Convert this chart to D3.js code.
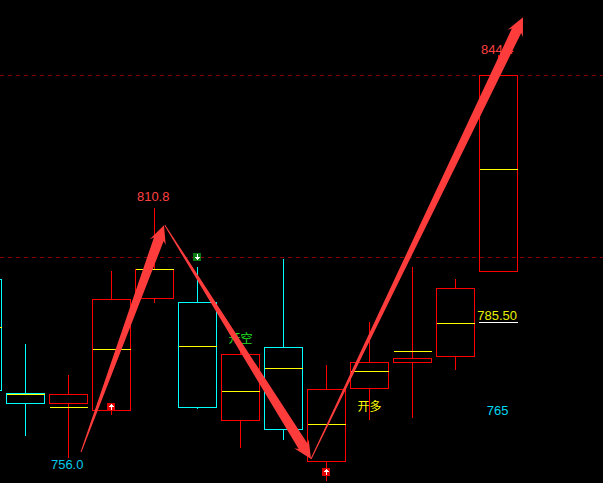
<!DOCTYPE html>
<html>
<head>
<meta charset="utf-8">
<script src="https://cdn.jsdelivr.net/npm/d3@7"></script>
<style>
  html, body { margin: 0; padding: 0; background: #000; overflow: hidden; }
  text { font-family: "Liberation Sans", "Noto Sans CJK SC", sans-serif; font-size: 13px; }
</style>
</head>
<body>
<div id="chart"></div>
<script>
// Candle values. Index 0 is the one cut off at the left edge.
var bodyTop = [795.0, 770.0, 769.8, 790.7, 797.3, 790.1, 778.6, 780.1, 770.9, 776.8, 777.8, 793.1, 839.8];
var bodyBottom = [770.6, 767.8, 767.8, 766.3, 790.9, 766.9, 764.1, 762.1, 755.1, 771.0, 776.8, 778.1, 796.9];
var midPrice = [784.6, 769.8, 767.0, 779.7, 797.3, 780.4, 770.5, 775.5, 763.2, 774.8, 779.3, 785.4, 819.2];
var highPrice = [795.0, 780.9, 774.1, 797.1, 810.8, 798.0, 780.7, 799.6, 776.3, 785.9, 798.0, 795.2, 844.4];
var lowPrice = [770.6, 760.7, 756.0, 765.3, 789.9, 766.6, 758.2, 760.0, 750.8, 764.2, 764.7, 775.2, 796.9];
var candleKind = ["down", "down", "up", "up", "up", "down", "up", "down", "up", "up", "up", "up", "up"];

var gridPrices = [840, 800];

// arrows as [index, price] pairs: tail then tip
var arrowFrom = [[2.29, 757.1], [4.24, 807.0], [7.64, 755.6]];
var arrowTo = [[4.22, 807.0], [7.64, 755.6], [12.57, 852.7]];

var signalIndex = [3, 5, 8];
var signalPrice = [767.0, 800.0, 752.8];
var signalDir = ["up", "down", "up"];

var labelText = ["810.8", "756.0", "844.4", "785.50", "765", "开空", "开多"];
var labelIndex = [3.97, 1.97, 11.97, 11.97, 11.98, 6.0, 9.0];
var labelPrice = [812.2, 753.3, 844.7, 786.15, 765.3, 781.0, 766.2];
var labelSize = [13, 13, 13, 13, 13, 12, 12];
var labelColor = ["#ff4040", "#00c8e8", "#ff4040", "#e8f000", "#00d8f0", "#22e022", "#ffff00"];

var svgWidth = 603;
var svgHeight = 483;

var colors = {up: "#ff0000", down: "#00ffff", mid: "#ffff00", arrow: "#ff3c3c", grid: "#8a0000"};

var svg = d3.select("#chart")
    .append("svg")
    .attr("width", svgWidth)
    .attr("height", svgHeight)
    .style("display", "block")
    .style("background", "#000");

var x = d3.scaleLinear().domain([0, 12]).range([-17.5, 498.5]);
var y = d3.scaleLinear().domain([800, 840]).range([257, 75]);
var halfBody = 19;

// snap to the middle of a pixel so the 1px lines stay sharp
function py(p) { return Math.floor(y(p)) + 0.5; }

// Dashed price levels
svg.selectAll("line.grid")
    .data(gridPrices)
    .enter()
    .append("line")
    .attr("class", "grid")
    .attr("x1", 0)
    .attr("x2", svgWidth)
    .attr("y1", d => py(d))
    .attr("y2", d => py(d))
    .attr("stroke", colors.grid)
    .attr("stroke-dasharray", "4,4")
    .attr("shape-rendering", "crispEdges");

var candles = d3.range(bodyTop.length);
var candleGroup = svg.append("g").attr("shape-rendering", "crispEdges");

// Wicks, upper and lower part so they stop at the body
candleGroup.selectAll("line.upper")
    .data(candles)
    .enter()
    .append("line")
    .attr("x1", i => x(i))
    .attr("x2", i => x(i))
    .attr("y1", i => py(highPrice[i]))
    .attr("y2", i => py(bodyTop[i]))
    .attr("stroke", i => colors[candleKind[i]]);

candleGroup.selectAll("line.lower")
    .data(candles)
    .enter()
    .append("line")
    .attr("x1", i => x(i))
    .attr("x2", i => x(i))
    .attr("y1", i => py(bodyBottom[i]))
    .attr("y2", i => py(lowPrice[i]))
    .attr("stroke", i => colors[candleKind[i]]);

// Bodies are hollow
candleGroup.selectAll("rect")
    .data(candles)
    .enter()
    .append("rect")
    .attr("x", i => x(i) - halfBody)
    .attr("y", i => py(bodyTop[i]))
    .attr("width", halfBody * 2)
    .attr("height", i => py(bodyBottom[i]) - py(bodyTop[i]))
    .attr("fill", "none")
    .attr("stroke", i => colors[candleKind[i]]);

// Yellow middle lines
candleGroup.selectAll("line.mid")
    .data(candles)
    .enter()
    .append("line")
    .attr("x1", i => x(i) - halfBody)
    .attr("x2", i => x(i) + halfBody)
    .attr("y1", i => py(midPrice[i]))
    .attr("y2", i => py(midPrice[i]))
    .attr("stroke", colors.mid);

// White underline below the 785.50 label
candleGroup.append("line")
    .attr("x1", x(11) + halfBody + 4)
    .attr("x2", x(12) + halfBody)
    .attr("y1", py(midPrice[11]) - 1)
    .attr("y2", py(midPrice[11]) - 1)
    .attr("stroke", "#ffffff");

// Labels
svg.selectAll("text")
    .data(labelText)
    .enter()
    .append("text")
    .attr("x", (d, i) => x(labelIndex[i]))
    .attr("y", (d, i) => y(labelPrice[i]))
    .attr("text-anchor", "middle")
    .attr("fill", (d, i) => labelColor[i])
    .style("font-size", (d, i) => labelSize[i] + "px")
    .text(d => d);

// Signal markers: small square with a white arrow
var signals = svg.selectAll("g.signal")
    .data(signalIndex)
    .enter()
    .append("g")
    .attr("class", "signal")
    .attr("shape-rendering", "crispEdges")
    .attr("transform", (d, i) => `translate(${Math.floor(x(d))}, ${Math.round(y(signalPrice[i]))})`);

signals.append("rect")
    .attr("x", -4)
    .attr("y", -4)
    .attr("width", 8)
    .attr("height", 8)
    .attr("rx", 1)
    .attr("fill", (d, i) => signalDir[i] == "up" ? "#e00000" : "#0a7a14");

signals.append("path")
    .attr("d", (d, i) => signalDir[i] == "up"
        ? "M0,-3L3,0L1,0L1,3L0,3L0,0L-2,0Z"
        : "M0,3L3,0L1,0L1,-3L0,-3L0,0L-2,0Z")
    .attr("fill", "#ffffff");

// Tapered arrows, thin at the tail and widening to the head
function arrowPath(from, to) {
    var x0 = x(from[0]), y0 = y(from[1]);
    var x1 = x(to[0]), y1 = y(to[1]);
    var len = Math.hypot(x1 - x0, y1 - y0);
    var ux = (x1 - x0) / len, uy = (y1 - y0) / len;
    var nx = -uy, ny = ux;
    var headLen = 18, neck = 5.2, barb = 8.5, tail = 0.5;
    var bx = x1 - ux * headLen, by = y1 - uy * headLen;
    var nkx = x1 - ux * (headLen - 3), nky = y1 - uy * (headLen - 3);
    var pts = [
        [x0 + nx * tail, y0 + ny * tail],
        [nkx + nx * neck, nky + ny * neck],
        [bx + nx * barb, by + ny * barb],
        [x1, y1],
        [bx - nx * barb, by - ny * barb],
        [nkx - nx * neck, nky - ny * neck],
        [x0 - nx * tail, y0 - ny * tail]
    ];
    return d3.line()(pts) + "Z";
}

svg.selectAll("path.arrow")
    .data(arrowFrom)
    .enter()
    .append("path")
    .attr("class", "arrow")
    .attr("d", (d, i) => arrowPath(d, arrowTo[i]))
    .attr("fill", colors.arrow);
</script>
</body>
</html>
